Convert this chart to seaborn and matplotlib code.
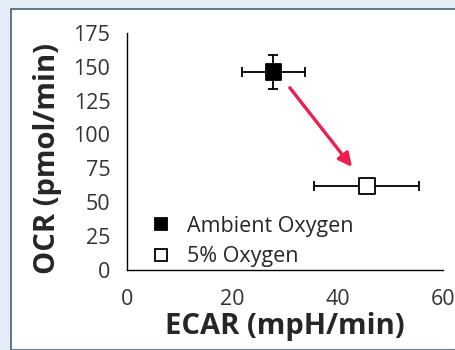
import pandas as pd
import matplotlib.pyplot as plt
import seaborn as sns
from matplotlib.patches import Rectangle

# Data
conditions = ['Ambient Oxygen', '5% Oxygen']
ecar = [27.8, 45.5]
ocr = [146, 62]
ecar_err = [6.0, 10.0]
ocr_err = [12.5, 2.0]

df = pd.DataFrame({'Condition': conditions, 'ECAR': ecar, 'OCR': ocr,
                   'ECAR_err': ecar_err, 'OCR_err': ocr_err})

sns.set_style('white')
plt.rcParams['font.family'] = ['Open Sans', 'DejaVu Sans']

fig = plt.figure(figsize=(4.55, 3.5), dpi=100)
fig.patch.set_facecolor('#e4edf6')
# white panel with a slate frame, behind the axes
fig.patches.append(Rectangle((11 / 455, 0), 1.0, 1 - 9 / 350, transform=fig.transFigure,
                             facecolor='white', edgecolor='#3f6384', linewidth=1.2, zorder=-10))

ax = fig.add_axes([0.279, 0.229, 0.695, 0.677])
ax.set_facecolor('none')

# error bars first, markers on top
ax.errorbar(df['ECAR'], df['OCR'], xerr=df['ECAR_err'], yerr=df['OCR_err'],
            fmt='none', ecolor='black', elinewidth=1.3, capsize=3.5, capthick=1.3, zorder=2)

sns.scatterplot(data=df, x='ECAR', y='OCR', hue='Condition', style='Condition',
                markers={'Ambient Oxygen': 's', '5% Oxygen': 's'},
                palette={'Ambient Oxygen': 'black', '5% Oxygen': 'white'},
                edgecolor='black', linewidth=1.3, s=130, ax=ax, zorder=3)

# red arrow from ambient to 5% oxygen
ax.annotate('', xy=(42.7, 76), xytext=(30.9, 134.5),
            arrowprops=dict(arrowstyle='-|>', color='#ee1f4f', lw=2.4,
                            mutation_scale=20, shrinkA=0, shrinkB=0))

ax.set_xlim(0, 60)
ax.set_ylim(0, 175)
ax.set_xticks([0, 20, 40, 60])
ax.set_yticks(range(0, 176, 25))
ax.set_xticklabels(['0', '20', '40', '60'])
ax.tick_params(axis='x', direction='inout', length=8, width=1, labelsize=15.5, pad=10, colors='black')
ax.tick_params(axis='y', direction='out', length=7, width=1, labelsize=15.5, pad=5)
for lab in ax.get_xticklabels() + ax.get_yticklabels():
    lab.set_color('#333333')

sns.despine(ax=ax)
ax.spines['left'].set_color('black')
ax.spines['bottom'].set_color('black')
ax.spines['left'].set_linewidth(1)
ax.spines['bottom'].set_linewidth(1)

ax.set_xlabel('ECAR (mpH/min)', fontsize=21, fontweight='bold', va='top')
ax.set_ylabel('OCR (pmol/min)', fontsize=21, fontweight='bold')
ax.xaxis.set_label_coords(0.5, -0.178)
ax.yaxis.set_label_coords(-0.205, 0.47)

leg = ax.legend(loc='lower left', bbox_to_anchor=(0.005, -0.035), frameon=False,
                fontsize=15.5, handletextpad=0.2, borderaxespad=0.1, labelspacing=0.45,
                markerscale=0.8)

plt.savefig('out.png', dpi=100, facecolor=fig.get_facecolor())
